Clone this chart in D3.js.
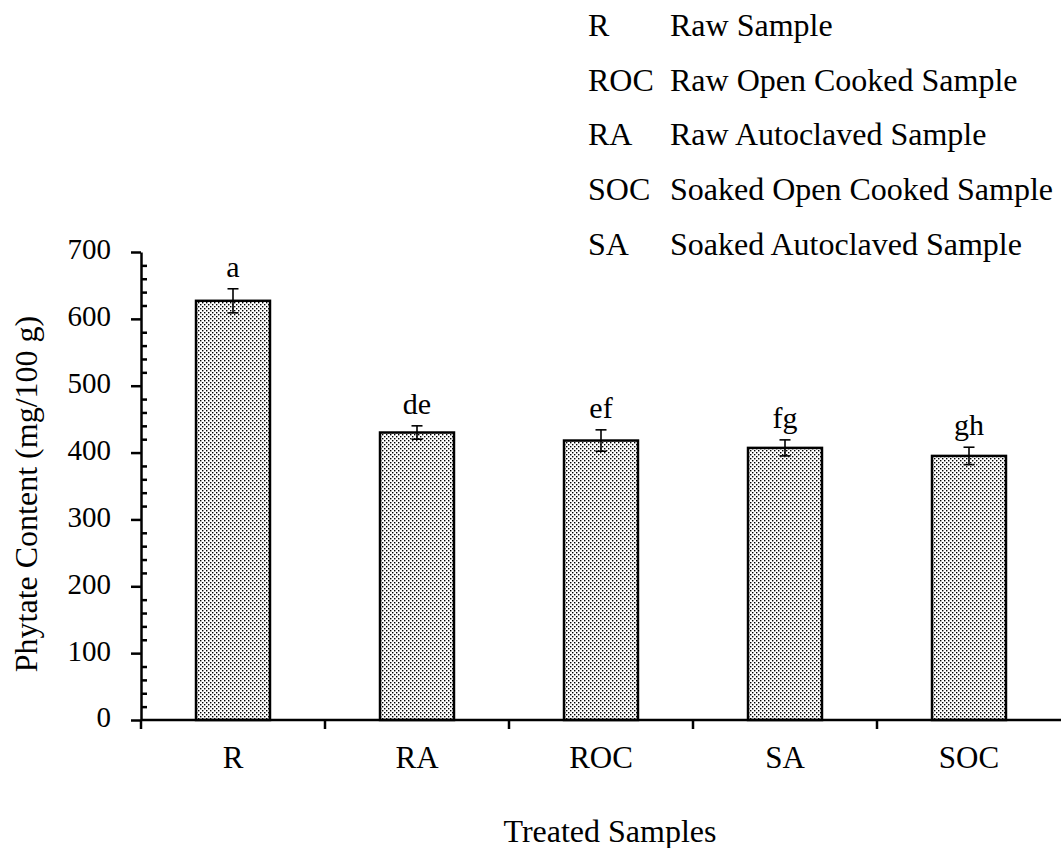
<!DOCTYPE html>
<html>
<head>
<meta charset="utf-8">
<script src="https://cdn.jsdelivr.net/npm/d3@7"></script>
<style>
  body { margin: 0; background: #fff; }
  svg text { font-family: "Liberation Serif", "Times New Roman", serif; fill: #000; }
</style>
</head>
<body>
<svg id="chart"></svg>
<script>
const categories = ["R", "RA", "ROC", "SA", "SOC"];
const values = [627, 430, 418, 407, 395];
const errors = [18, 10, 16, 12, 13];
const letters = ["a", "de", "ef", "fg", "gh"];
const yTicks = [0, 100, 200, 300, 400, 500, 600, 700];
const legendCodes = ["R", "ROC", "RA", "SOC", "SA"];
const legendNames = ["Raw Sample", "Raw Open Cooked Sample", "Raw Autoclaved Sample",
  "Soaked Open Cooked Sample", "Soaked Autoclaved Sample"];

const width = 1061, height = 848;
const plotLeft = 141, plotRight = 1061, plotTop = 252, plotBottom = 720;

const svg = d3.select("#chart").attr("width", width).attr("height", height);

// dotted fill like the excel pattern
const pat = svg.append("defs").append("pattern")
  .attr("id", "dots").attr("patternUnits", "userSpaceOnUse")
  .attr("width", 4).attr("height", 4);
pat.append("rect").attr("width", 4).attr("height", 4).attr("fill", "#fff");
pat.append("rect").attr("x", 0).attr("y", 0).attr("width", 1.4).attr("height", 1.4).attr("fill", "#000");
pat.append("rect").attr("x", 2).attr("y", 2).attr("width", 1.4).attr("height", 1.4).attr("fill", "#000");

const x = d3.scaleBand().domain(categories).range([plotLeft, plotRight]).padding(0);
const y = d3.scaleLinear().domain([0, 700]).range([plotBottom, plotTop]);
const barW = x.bandwidth() * 0.402;

// minor ticks (inside)
const minor = d3.range(0, 701, 20).filter(v => v % 100 !== 0);
svg.append("g")
  .attr("transform", `translate(${plotLeft},0)`)
  .call(d3.axisLeft(y).tickValues(minor).tickSize(-6).tickFormat(""))
  .call(g => g.select(".domain").remove())
  .call(g => g.selectAll("line").attr("stroke", "#000").attr("stroke-width", 2.5));

// y axis major
svg.append("g")
  .attr("transform", `translate(${plotLeft},0)`)
  .call(d3.axisLeft(y).tickValues(yTicks).tickSize(10).tickSizeOuter(0).tickPadding(20))
  .call(g => g.select(".domain").attr("stroke", "#000").attr("stroke-width", 2.5))
  .call(g => g.selectAll("line").attr("stroke", "#000").attr("stroke-width", 2.5))
  .call(g => g.selectAll("text").attr("font-size", 29).attr("dy", "0.24em")
    .style("font-family", "Liberation Serif"));

// bars
svg.append("g").selectAll("rect")
  .data(categories)
  .join("rect")
  .attr("x", d => x(d) + (x.bandwidth() - barW) / 2)
  .attr("y", (d, i) => y(values[i]))
  .attr("width", barW)
  .attr("height", (d, i) => y(0) - y(values[i]))
  .attr("fill", "url(#dots)")
  .attr("stroke", "#000")
  .attr("stroke-width", 2.5);

// error bars
const eb = svg.append("g").attr("stroke", "#000").attr("stroke-width", 1.6);
categories.forEach((c, i) => {
  const cx = x(c) + x.bandwidth() / 2;
  const hi = y(values[i] + errors[i]), lo = y(values[i] - errors[i]);
  eb.append("line").attr("x1", cx).attr("x2", cx).attr("y1", hi).attr("y2", lo);
  eb.append("line").attr("x1", cx - 5.5).attr("x2", cx + 5.5).attr("y1", hi).attr("y2", hi);
  eb.append("line").attr("x1", cx - 5.5).attr("x2", cx + 5.5).attr("y1", lo).attr("y2", lo);
});

// significance letters
svg.append("g").selectAll("text")
  .data(categories)
  .join("text")
  .attr("x", d => x(d) + x.bandwidth() / 2)
  .attr("y", (d, i) => y(values[i] + errors[i]) - 12)
  .attr("text-anchor", "middle")
  .attr("font-size", 30)
  .text((d, i) => letters[i]);

// x axis
const xa = svg.append("g").attr("transform", `translate(0,${plotBottom})`);
xa.append("line").attr("x1", plotLeft).attr("x2", plotRight).attr("stroke", "#000").attr("stroke-width", 2.5);
xa.selectAll(".tk")
  .data(categories.map(c => x(c)))
  .join("line")
  .attr("class", "tk")
  .attr("x1", d => d).attr("x2", d => d)
  .attr("y1", 0).attr("y2", 9)
  .attr("stroke", "#000").attr("stroke-width", 2.5);
xa.selectAll(".lbl")
  .data(categories)
  .join("text")
  .attr("class", "lbl")
  .attr("x", d => x(d) + x.bandwidth() / 2)
  .attr("y", 48)
  .attr("text-anchor", "middle")
  .attr("font-size", 31)
  .text(d => d);

// axis titles
svg.append("text")
  .attr("x", 610)
  .attr("y", 842)
  .attr("text-anchor", "middle")
  .attr("font-size", 32)
  .text("Treated Samples");

svg.append("text")
  .attr("transform", "translate(37,494) rotate(-90)")
  .attr("text-anchor", "middle")
  .attr("font-size", 32)
  .text("Phytate Content (mg/100 g)");

// legend (abbreviation key)
const lg = svg.append("g");
legendCodes.forEach((code, i) => {
  const by = 36 + i * 54.7;
  lg.append("text").attr("x", 588).attr("y", by).attr("font-size", 32).text(code);
  lg.append("text").attr("x", 670).attr("y", by).attr("font-size", 32).text(legendNames[i]);
});
</script>
</body>
</html>
